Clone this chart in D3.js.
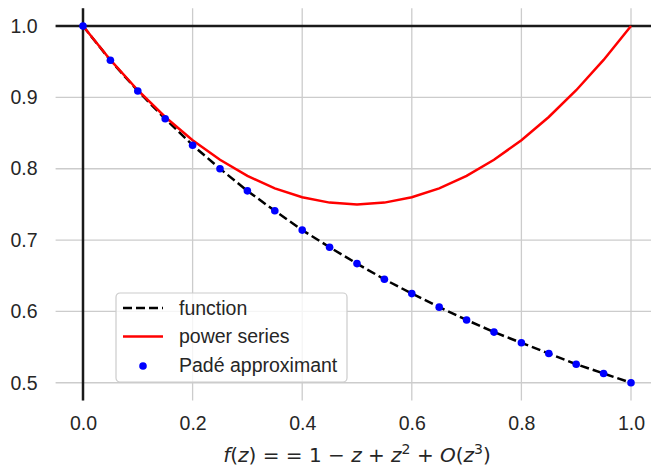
<!DOCTYPE html>
<html>
<head>
<meta charset="utf-8">
<script src="https://cdn.jsdelivr.net/npm/d3@7"></script>
<style>
  html, body { margin: 0; padding: 0; background: #fff; }
  svg { display: block; }
</style>
</head>
<body>
<svg id="chart" width="651" height="467"></svg>
<script>
// Sample points z in [0, 1]
const zValues = [0, 0.05, 0.1, 0.15, 0.2, 0.25, 0.3, 0.35, 0.4, 0.45, 0.5,
                 0.55, 0.6, 0.65, 0.7, 0.75, 0.8, 0.85, 0.9, 0.95, 1.0];
// 1/(1+z)
const functionValues = [1.0, 0.952, 0.909, 0.870, 0.833, 0.8, 0.769, 0.741, 0.714, 0.690, 0.667,
                        0.645, 0.625, 0.606, 0.588, 0.571, 0.556, 0.541, 0.526, 0.513, 0.5];
// 1 - z + z^2
const seriesValues = [1.0, 0.9525, 0.91, 0.8725, 0.84, 0.8125, 0.79, 0.7725, 0.76, 0.7525, 0.75,
                      0.7525, 0.76, 0.7725, 0.79, 0.8125, 0.84, 0.8725, 0.91, 0.9525, 1.0];
// Padé [0/1] approximant 1/(1+z)
const padeValues = [1.0, 0.952, 0.909, 0.870, 0.833, 0.8, 0.769, 0.741, 0.714, 0.690, 0.667,
                    0.645, 0.625, 0.606, 0.588, 0.571, 0.556, 0.541, 0.526, 0.513, 0.5];

const xTicks = [0.0, 0.2, 0.4, 0.6, 0.8, 1.0];
const yTicks = [0.5, 0.6, 0.7, 0.8, 0.9, 1.0];
const legendLabels = ["function", "power series", "Padé approximant"];

const svg = d3.select("#chart");
const plotLeft = 55.6, plotRight = 658.4, plotTop = 8.2, plotBottom = 400.6;

const x = d3.scaleLinear().domain([-0.05, 1.05]).range([plotLeft, plotRight]);
const y = d3.scaleLinear().domain([0.475, 1.025]).range([plotBottom, plotTop]);

const tickFont = "'Liberation Sans', Arial, sans-serif";
const tickSize = 19.5;
const legendSize = 19.5;
const lineW = 2.5;

// grid
const grid = svg.append("g");
grid.selectAll("line.gx").data(xTicks).join("line")
  .attr("x1", d => x(d)).attr("x2", d => x(d))
  .attr("y1", plotTop).attr("y2", plotBottom)
  .attr("stroke", "#cccccc").attr("stroke-width", 1.3);
grid.selectAll("line.gy").data(yTicks).join("line")
  .attr("x1", plotLeft).attr("x2", plotRight)
  .attr("y1", d => y(d)).attr("y2", d => y(d))
  .attr("stroke", "#cccccc").attr("stroke-width", 1.3);

// axes (tick labels only)
const xAxis = svg.append("g").attr("transform", `translate(0,${plotBottom})`)
  .call(d3.axisBottom(x).tickValues(xTicks).tickFormat(d3.format(".1f")).tickSize(0));
const yAxis = svg.append("g").attr("transform", `translate(${plotLeft},0)`)
  .call(d3.axisLeft(y).tickValues(yTicks).tickFormat(d3.format(".1f")).tickSize(0).tickPadding(18));
[xAxis, yAxis].forEach(a => {
  a.select(".domain").remove();
  a.selectAll("text").attr("font-family", tickFont).attr("font-size", tickSize).attr("fill", "#262626");
});
xAxis.selectAll("text").attr("dy", null).attr("y", 29.5);

// reference lines at z = 0 and f = 1
svg.append("line").attr("x1", plotLeft).attr("x2", plotRight).attr("y1", y(1)).attr("y2", y(1))
  .attr("stroke", "#1a1a1a").attr("stroke-width", lineW);
svg.append("line").attr("x1", x(0)).attr("x2", x(0)).attr("y1", plotTop).attr("y2", plotBottom)
  .attr("stroke", "#1a1a1a").attr("stroke-width", lineW);

const line = d3.line().x(d => x(d[0])).y(d => y(d[1]));

svg.append("path").datum(zValues.map((z, i) => [z, functionValues[i]]))
  .attr("d", line).attr("fill", "none").attr("stroke", "black")
  .attr("stroke-width", lineW).attr("stroke-dasharray", "9,4");

svg.append("path").datum(zValues.map((z, i) => [z, seriesValues[i]]))
  .attr("d", line).attr("fill", "none").attr("stroke", "red")
  .attr("stroke-width", lineW);

svg.selectAll("circle.pade").data(zValues.map((z, i) => [z, padeValues[i]])).join("circle")
  .attr("class", "pade")
  .attr("cx", d => x(d[0])).attr("cy", d => y(d[1])).attr("r", 3.8).attr("fill", "blue");

// legend
const lg = svg.append("g").attr("transform", "translate(116,293)");
lg.append("rect").attr("width", 231).attr("height", 89).attr("rx", 4)
  .attr("fill", "white").attr("fill-opacity", 0.8).attr("stroke", "#cccccc").attr("stroke-width", 1.2);
const rows = [
  { dash: "9,4", color: "black" },
  { dash: null, color: "red" },
  { dot: true, color: "blue" }
];
rows.forEach((r, i) => {
  const cy = 15 + i * 28.5;
  if (r.dot) {
    lg.append("circle").attr("cx", 27).attr("cy", cy + 1).attr("r", 3.8).attr("fill", r.color);
  } else {
    const l = lg.append("line").attr("x1", 7).attr("x2", 47).attr("y1", cy).attr("y2", cy)
      .attr("stroke", r.color).attr("stroke-width", lineW);
    if (r.dash) l.attr("stroke-dasharray", r.dash);
  }
  lg.append("text").attr("x", 63).attr("y", cy).attr("dy", "0.35em")
    .attr("font-family", tickFont).attr("font-size", legendSize).attr("fill", "#262626")
    .text(legendLabels[i]);
});

// x label in math style
const xl = svg.append("text").attr("x", 357).attr("y", 462).attr("text-anchor", "middle")
  .attr("font-family", "'DejaVu Sans', sans-serif").attr("font-size", 20).attr("fill", "#262626");
const parts = [
  ["f", true], ["(", false], ["z", true], [") = = 1 − ", false], ["z", true], [" + ", false],
  ["z", true], ["2", false, "sup"], [" + ", false], ["O", true], ["(", false], ["z", true],
  ["3", false, "sup"], [")", false]
];
let supOn = false;
parts.forEach(p => {
  const t = xl.append("tspan").text(p[0]).attr("font-style", p[1] ? "italic" : "normal");
  if (p[2] === "sup") { t.attr("dy", -8).attr("font-size", 14); supOn = true; }
  else if (supOn) { t.attr("dy", 8); supOn = false; }
});
</script>
</body>
</html>
